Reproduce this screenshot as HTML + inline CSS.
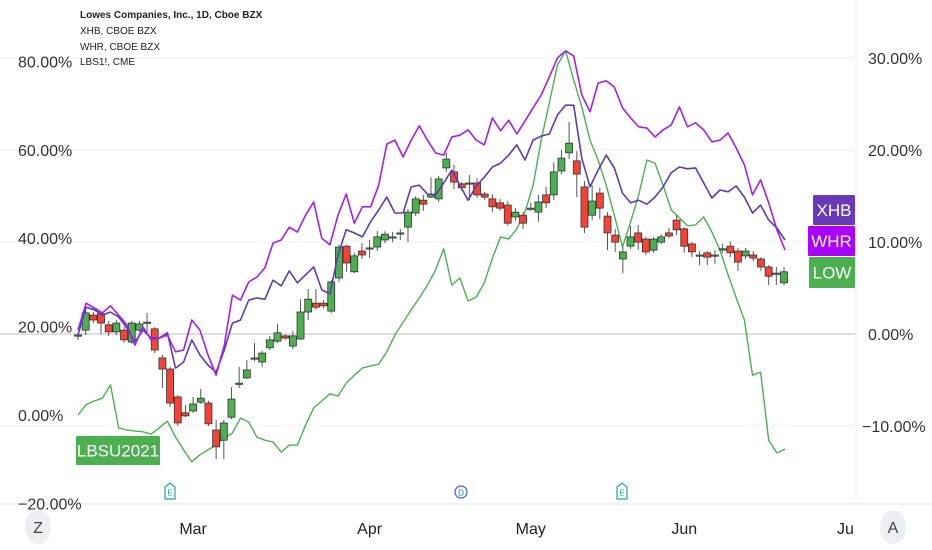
<!DOCTYPE html>
<html><head><meta charset="utf-8"><style>
body{margin:0;background:#fff;width:932px;height:550px;overflow:hidden;font-family:"Liberation Sans",sans-serif}
svg{display:block}
</style></head><body>
<svg id="chart" width="932" height="550" xmlns="http://www.w3.org/2000/svg">
<g id="grid"></g>
<g id="series"></g>
<g id="axes"></g>
<g font-size="10" fill="#222">
<text x="80" y="18" font-weight="bold">Lowes Companies, Inc., 1D, Cboe BZX</text>
<text x="80" y="34">XHB, CBOE BZX</text>
<text x="80" y="50">WHR, CBOE BZX</text>
<text x="80" y="65">LBS1!, CME</text>
</g>
</svg>
<script>
const leftTicks=[80,60,40,20,0,-20];
const rightTicks=[30,20,10,0,-10];
const months=["Mar","Apr","May","Jun","Ju"];
const monthIdx=[15,38,59,79,100];
// LOW candles (% change, left axis)
const lowOpen=[18.1,19.2,22.6,22.9,20.4,18.8,19.2,16.5,19.2,21.0,19.5,12.9,10.4,4.1,0.5,0.9,2.9,2.7,-3.4,-5.7,-0.5,7.2,8.4,12.9,12.0,15.2,16.7,17.9,15.6,17.2,23.3,25.3,25.3,23.5,31.0,38.2,32.4,37.1,37.8,38.0,39.6,40.3,41.2,42.5,45.7,48.6,49.3,48.9,55.9,55.0,52.3,52.5,52.5,50.0,48.9,48.0,47.5,44.8,45.2,46.8,45.9,49.8,49.8,55.2,59.3,57.5,51.6,45.2,50.2,45.0,40.7,35.3,38.2,41.2,39.8,37.3,39.1,41.2,44.1,42.1,38.7,36.2,36.7,36.2,37.6,38.2,37.1,36.0,36.2,35.3,33.5,32.1,29.9];
const lowClose=[18.1,23.1,21.5,20.8,18.8,20.8,17.0,20.8,20.6,21.0,14.7,10.4,2.7,-1.8,-0.2,2.5,3.8,-2.0,-7.2,-1.8,3.6,7.2,10.2,12.9,14.0,17.0,18.6,17.4,17.9,23.3,26.2,24.4,24.7,30.1,38.0,34.4,36.0,36.2,37.8,40.3,40.9,40.3,41.2,45.9,48.9,47.7,50.0,53.4,57.9,52.7,51.4,52.5,49.8,49.3,47.1,46.8,43.4,45.9,43.4,46.8,48.2,48.0,55.0,58.1,61.5,54.5,42.5,48.4,46.8,41.2,39.1,36.9,40.3,39.1,36.9,39.8,40.3,40.5,41.9,38.2,36.9,36.2,35.7,36.2,37.6,36.7,34.6,37.1,35.5,33.5,31.4,32.1,32.4];
const lowHigh=[18.5,23.8,23.3,23.3,21.3,21.5,19.9,21.3,21.3,23.1,19.9,13.6,10.9,4.5,2.3,4.1,5.9,3.2,-1.1,-1.1,6.3,10.9,12.4,16.3,14.5,17.9,20.6,18.3,19.0,26.2,28.5,28.5,26.0,30.5,38.5,38.5,36.7,38.9,39.6,41.6,41.6,41.4,42.1,46.6,49.5,49.8,53.8,54.1,59.3,56.6,52.7,54.3,53.6,50.5,50.0,48.9,48.4,46.8,45.9,48.0,49.8,51.6,57.2,60.0,66.3,59.7,52.9,52.0,51.4,45.9,42.1,38.0,42.8,43.0,40.3,40.3,40.9,42.3,45.2,42.5,39.1,37.1,37.1,37.3,38.7,39.3,37.8,37.8,37.1,35.7,33.9,33.5,33.5];
const lowLow=[17.0,18.1,20.8,18.3,17.9,18.1,16.3,16.1,18.8,18.1,14.0,6.1,1.8,-2.5,-0.5,0.5,2.5,-2.5,-10.0,-10.0,-0.9,6.1,8.1,12.2,10.9,14.7,16.3,17.0,14.9,17.0,21.5,23.8,24.2,23.1,30.1,32.4,32.1,35.3,35.5,37.1,38.9,39.1,39.6,39.1,45.0,46.2,49.1,48.2,55.0,51.1,50.7,48.6,49.1,48.6,45.9,46.2,42.8,43.9,42.1,46.2,43.7,46.8,48.6,54.5,57.9,49.3,41.2,44.1,44.3,37.3,36.9,32.1,37.6,37.3,36.2,36.7,38.7,40.0,40.7,36.7,35.7,33.9,33.9,34.2,36.7,35.7,32.6,35.3,34.8,32.6,29.4,29.4,29.4];
// Comparison lines (% change, left axis scale)
const whrValues=[19.2,25.3,24.2,23.1,24.7,22.6,20.4,15.8,19.9,17.0,17.4,18.1,14.3,14.7,21.5,19.2,13.6,9.0,15.8,27.1,26.0,30.1,31.2,33.3,38.9,39.6,42.5,41.4,45.2,48.2,40.0,38.5,45.2,50.0,43.4,47.1,47.1,52.0,61.3,62.2,58.4,62.2,65.4,62.2,59.3,58.8,62.9,63.3,64.5,62.2,61.1,67.2,64.3,66.7,63.6,66.5,69.5,72.4,76.5,80.8,82.4,81.2,72.4,68.6,75.1,75.6,74.2,69.5,67.2,65.2,64.9,62.9,64.5,65.6,69.7,65.2,66.1,64.5,61.8,62.2,63.8,60.4,56.6,49.8,53.2,48.0,41.9,37.3];
const xhbValues=[18.1,24.4,23.8,22.6,23.3,22.2,19.7,16.5,19.2,17.4,17.4,18.6,10.6,12.0,17.0,13.6,11.3,9.7,14.7,20.8,21.5,26.0,26.5,26.2,30.5,29.2,32.6,29.9,31.7,33.5,28.3,27.4,36.2,41.9,41.2,40.3,43.7,46.4,49.3,45.7,45.7,51.6,52.0,50.0,49.8,52.5,55.4,52.0,48.6,51.8,53.8,56.1,57.0,58.8,61.1,57.7,62.2,63.1,63.6,67.9,70.1,70.1,58.1,51.6,55.4,58.8,55.9,50.2,48.0,48.6,47.7,49.3,51.6,54.8,56.1,55.7,55.9,52.5,49.1,50.9,50.5,51.8,49.3,45.7,47.5,44.1,42.3,39.6];
const lbsValues=[0,2.3,3.2,3.8,6.8,-2.9,-3.4,-3.6,-3.8,-4.3,-2.9,-1.4,-5.0,-7.9,-10.6,-9.0,-7.9,-6.8,-5.2,-4.1,-0.7,-1.6,-5.0,-5.7,-6.1,-8.4,-6.8,-6.8,-2.3,1.6,3.2,4.8,4.3,7.2,9.0,10.6,11.1,11.5,14.3,18.1,21.0,23.8,26.5,29.4,32.8,37.6,29.4,31.0,25.8,26.7,29.9,35.5,40.3,39.8,42.1,45.9,52.0,62.2,70.6,79.2,82.4,75.8,69.7,62.2,57.7,52.0,45.2,38.0,43.7,49.8,57.7,57.0,52.0,46.4,44.6,42.8,43.0,44.8,41.4,37.3,31.7,26.5,21.5,9.0,9.7,-5.7,-8.6,-7.7];

const NS="http://www.w3.org/2000/svg";
const X0=78,X1=784,PLOT_R=856;
const yL=v=>415-v*4.42;           // left axis
const yR=v=>334-v*9.2;            // right axis
const xC=i=>X0+i*(X1-X0)/(lowOpen.length-1);
const xS=(i,n)=>X0+i*(X1-X0+1)/(n-1);
function mk(tag,attrs,parent){const e=document.createElementNS(NS,tag);for(const k in attrs)e.setAttribute(k,attrs[k]);parent.appendChild(e);return e;}
const grid=document.getElementById('grid'),series=document.getElementById('series'),axes=document.getElementById('axes');

rightTicks.forEach(t=>{
  const l=mk('line',{x1:0,x2:PLOT_R,y1:yR(t),y2:yR(t),stroke:t===0?'#bdbdbd':'#f0f0f0','stroke-width':1},grid);
  
  
});
const sep=mk('line',{x1:PLOT_R,x2:PLOT_R,y1:0,y2:504,stroke:'#eee'},grid);


const bot=mk('line',{x1:0,x2:932,y1:504,y2:504,stroke:'#e6e6e6'},grid);



function line(vals,color,name,w){
  const pts=vals.map((v,i)=>xS(i,vals.length).toFixed(1)+','+yL(v).toFixed(1)).join(' ');
  const p=mk('polyline',{points:pts,fill:'none',stroke:color,'stroke-width':w,'stroke-linejoin':'round'},series);
  
  
}
line(lbsValues,'#4caf50','lbs-line',1.4);

lowOpen.forEach((o,i)=>{
  const c=lowClose[i],x=xC(i),up=c>=o;
  const g=mk('g',{},series);
  
  
  mk('line',{x1:x,x2:x,y1:yL(lowHigh[i]),y2:yL(lowLow[i]),stroke:'#555','stroke-width':1},g);
  const top=yL(Math.max(o,c)),bt=yL(Math.min(o,c));
  mk('rect',{x:x-3.5,y:top,width:7,height:Math.max(bt-top,1.2),fill:up?'#4caf50':'#f44336',stroke:'#333','stroke-width':0.8},g);
});
line(xhbValues,'#5b3cb5','xhb-line',1.6);
line(whrValues,'#a31ff0','whr-line',1.6);

leftTicks.forEach(t=>{
  const e=mk('text',{x:18,y:yL(t)+6,'font-size':16,fill:'#333'},axes);
  e.textContent=(t<0?'\u221220':t)+(t<0?'.00%':'.00%');
  if(t>=0)e.textContent=t.toFixed(2)+'%';
  
  
});
rightTicks.forEach(t=>{
  const e=mk('text',{x:t<0?862:868,y:yR(t)+6,'font-size':16,fill:'#333'},axes);
  e.textContent=(t<0?'\u2212'+Math.abs(t).toFixed(2):t.toFixed(2))+'%';
  
  
});
months.forEach((m,k)=>{
  const e=mk('text',{x:xC(monthIdx[k]),y:534,'font-size':16,fill:'#222','text-anchor':'middle'},axes);
  e.textContent=m;
  
  
});
function badge(x,y,w,h,color,txt,name){
  const g=mk('g',{},axes);
  
  
  mk('rect',{x:x,y:y,width:w,height:h,fill:color,rx:1},g);
  const t=mk('text',{x:x+w/2,y:y+h/2+6,'font-size':17,fill:'#fff','text-anchor':'middle'},g);
  t.textContent=txt;
}
badge(813,195,42,30,'#673ab7','XHB','xhb-price-label');
badge(808,226,47,30,'#aa00ff','WHR','whr-price-label');
badge(809,257,46,31,'#4caf50','LOW','low-price-label');
badge(76,436,84,29,'#4caf50','LBSU2021','lbs-price-label');
function marker(x,ch,color,name){
  const g=mk('g',{},axes);
  
  
  if(ch==='D')mk('circle',{cx:x,cy:492,r:6,fill:'#fff',stroke:color,'stroke-width':1.2},g);
  else mk('path',{d:`M${x-5} ${487}L${x} ${483}L${x+5} ${487}V${499}H${x-5}Z`,fill:'#fff',stroke:color,'stroke-width':1.2},g);
  const t=mk('text',{x:x,y:495.5,'font-size':8,fill:color,'text-anchor':'middle'},g);
  t.textContent=ch;
}
marker(170,'E','#26a69a','earnings-marker');
marker(461,'D','#2962ff','dividend-marker');
marker(622,'E','#26a69a','earnings-marker');
function circ(x,ch,name){
  const g=mk('g',{},axes);
  
  
  mk('ellipse',{cx:x,cy:527,rx:13,ry:17,fill:'#eceef2'},g);
  const t=mk('text',{x:x,y:533,'font-size':16,fill:'#444','text-anchor':'middle'},g);
  t.textContent=ch;
}
circ(38,'Z','zoom-button');
circ(893,'A','auto-scale-button');
</script>
</body></html>
